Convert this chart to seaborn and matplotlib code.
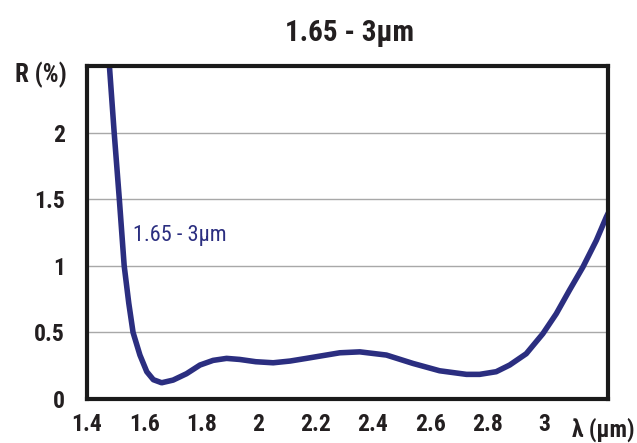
import numpy as np
import pandas as pd
import matplotlib
matplotlib.use("Agg")
import matplotlib.pyplot as plt
import seaborn as sns

# Data
wavelength = [1.470, 1.477, 1.495, 1.513, 1.530, 1.546, 1.561, 1.585, 1.609, 1.632,
              1.661, 1.701, 1.748, 1.795, 1.841, 1.888, 1.934, 1.990, 2.051, 2.110,
              2.167, 2.284, 2.354, 2.447, 2.540, 2.633, 2.727, 2.773, 2.831, 2.878,
              2.936, 2.994, 3.041, 3.087, 3.134, 3.181, 3.216, 3.240]
reflectance = [2.75, 2.54, 2.00, 1.50, 1.00, 0.72, 0.50, 0.33, 0.205, 0.145,
               0.122, 0.142, 0.19, 0.255, 0.29, 0.305, 0.297, 0.28, 0.272, 0.285,
               0.305, 0.347, 0.354, 0.33, 0.267, 0.212, 0.185, 0.185, 0.205, 0.255,
               0.34, 0.49, 0.64, 0.816, 0.99, 1.19, 1.366, 1.47]

x_ticks = [1.4, 1.6, 1.8, 2.0, 2.2, 2.4, 2.6, 2.8, 3.0]
x_tick_labels = ["1.4", "1.6", "1.8", "2", "2.2", "2.4", "2.6", "2.8", "3"]
y_ticks = [0, 0.5, 1, 1.5, 2]
y_tick_labels = ["0", "0.5", "1", "1.5", "2"]

TITLE = "1.65 - 3µm"
LINE_COLOR = "#2b2e80"
TEXT_COLOR = "#231f20"

sns.set_theme(style="white")
plt.rcParams['font.family'] = ['Roboto Condensed', 'DejaVu Sans Condensed',
                               'Roboto', 'DejaVu Sans']
plt.rcParams['font.stretch'] = 'condensed'

df = pd.DataFrame({"wavelength": wavelength, "R": reflectance})

fig = plt.figure(figsize=(6.37, 4.43), dpi=100)
ax = fig.add_axes([0.1366, 0.0993, 0.8179, 0.7517])

sns.lineplot(data=df, x="wavelength", y="R", ax=ax, color=LINE_COLOR,
             linewidth=4.0, sort=False, solid_capstyle="round",
             solid_joinstyle="round")

ax.set_xlim(1.4, 3.222)
ax.set_ylim(0, 2.5)
ax.set_xticks(x_ticks)
ax.set_xticklabels(x_tick_labels)
ax.set_yticks(y_ticks)
ax.set_yticklabels(y_tick_labels)
ax.tick_params(axis="both", length=0, labelsize=17, labelcolor=TEXT_COLOR)
ax.tick_params(axis="x", pad=10)
ax.tick_params(axis="y", pad=16)
for lbl in ax.get_xticklabels() + ax.get_yticklabels():
    lbl.set_fontweight("bold")

ax.grid(axis="y", color="#a8a8a8", linewidth=1.0)
ax.grid(axis="x", visible=False)
for s in ax.spines.values():
    s.set_visible(True)
    s.set_color("#1a1a1a")
    s.set_linewidth(3)

ax.set_xlabel("")
ax.set_ylabel("")

fig.text(0.549, 0.925, TITLE, ha="center", va="center", fontsize=21,
         fontweight="bold", color=TEXT_COLOR)
fig.text(0.064, 0.830, "R (%)", ha="center", va="center", fontsize=18,
         fontweight="bold", color=TEXT_COLOR)
fig.text(0.947, 0.029, "λ (µm)", ha="center", va="center", fontsize=17,
         fontweight="bold", color=TEXT_COLOR)
ax.text(1.56, 1.23, "1.65 - 3µm", fontsize=16, color=LINE_COLOR,
        ha="left", va="center")

plt.savefig("out.png", dpi=100)
